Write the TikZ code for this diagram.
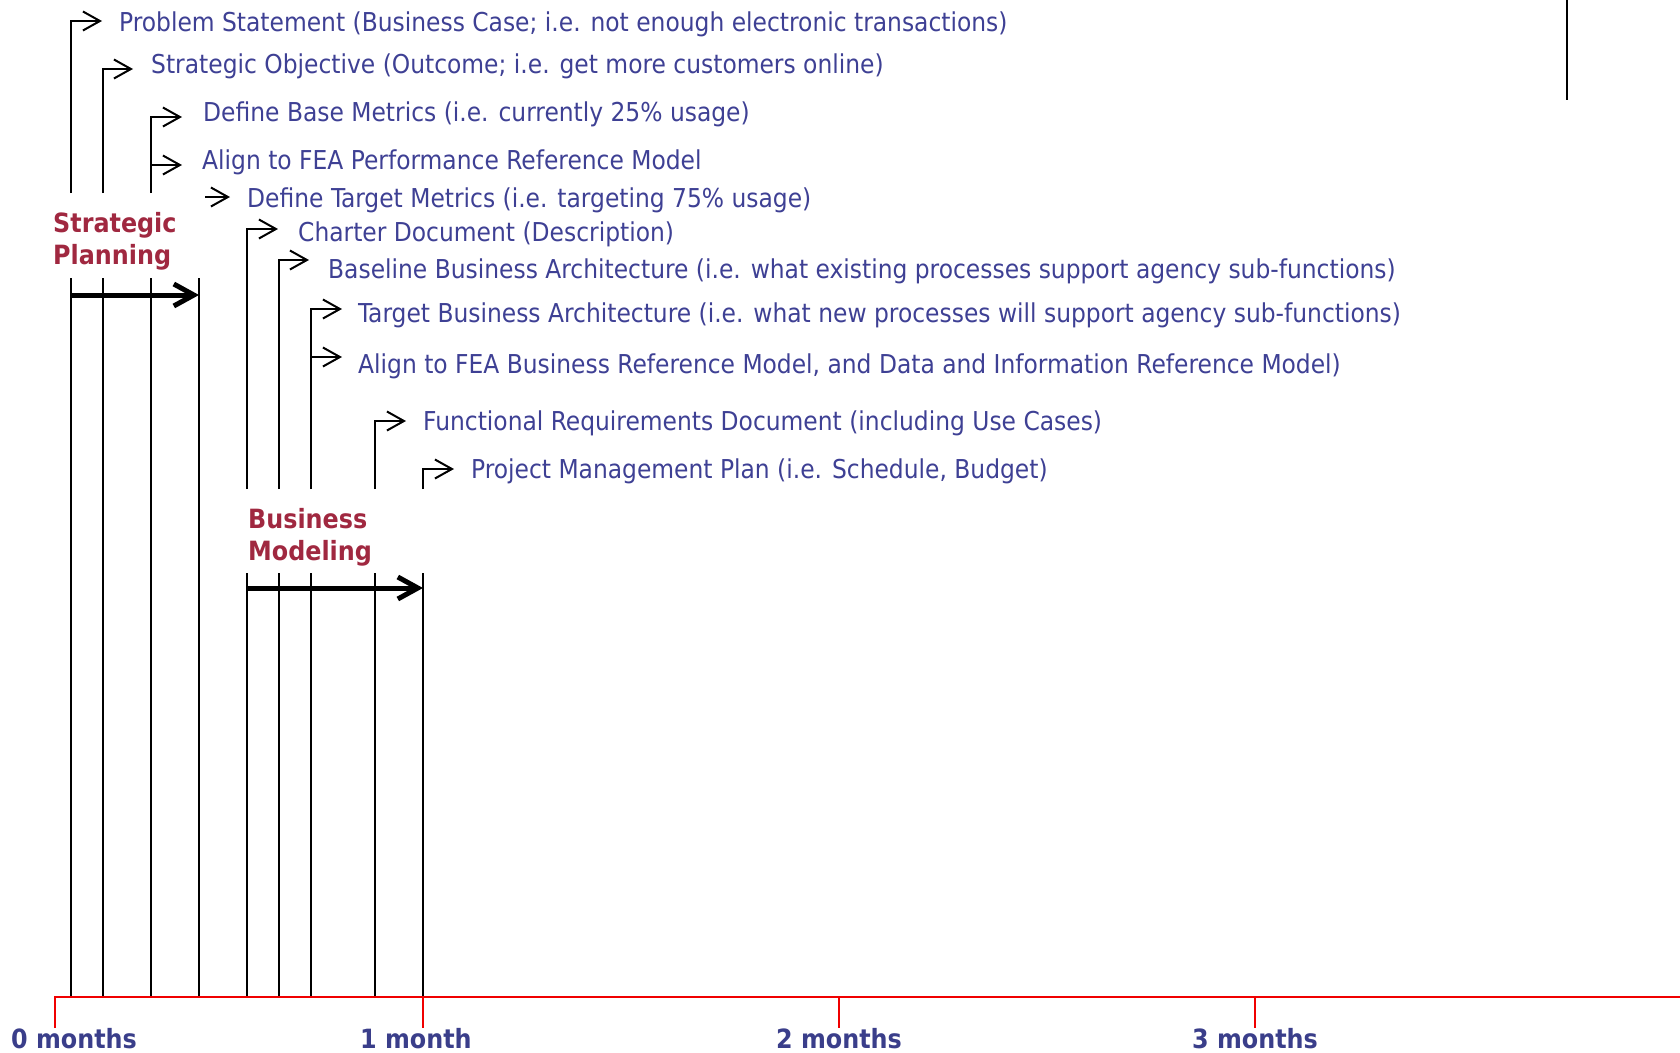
\documentclass[tikz,border=0pt]{standalone}
\usepackage{xcolor}
\usepackage{fontspec}
\usepackage{tikz}
\usetikzlibrary{arrows.meta}
\setmainfont{DejaVu Sans Condensed}

\definecolor{taskblue}{RGB}{62,64,148}
\definecolor{monthblue}{RGB}{58,62,138}
\definecolor{phasered}{RGB}{160,40,64}
\definecolor{axisred}{RGB}{240,0,0}

\newcommand{\tasksize}{\fontsize{26}{32}\selectfont}
\newcommand{\phasesize}{\fontsize{26.5}{32}\selectfont\bfseries}

\tikzset{
	milestone/.style={line width=2pt},
	taskarrow/.style={line width=2pt, -{Straight Barb[length=17pt,width=19pt]}},
	phasearrow/.style={line width=5pt, -{Straight Barb[length=20pt,width=22pt]}},
	axisline/.style={draw=axisred, line width=2.5pt},
	tasktext/.style={anchor=base west, inner sep=0pt, text=taskblue, font=\tasksize},
	phaselabel/.style={anchor=base west, inner sep=0pt, align=left, text=phasered, font=\phasesize},
	monthlabel/.style={anchor=base west, inner sep=0pt, text=monthblue, font=\phasesize},
}

\begin{document}
\begin{tikzpicture}[x=1pt, y=-1pt]
		\useasboundingbox (0,0) rectangle (1680,1052);
		% tasks
		\node[tasktext] (problem) at (119,31) {Problem Statement (Business Case; i.e. not enough electronic transactions)};
		\node[tasktext] (objective) at (151,73) {Strategic Objective (Outcome; i.e. get more customers online)};
		\node[tasktext] (basemetrics) at (203,121) {Define Base Metrics (i.e. currently 25\% usage)};
		\node[tasktext] (alignprm) at (202,169) {Align to FEA Performance Reference Model};
		\node[tasktext] (targetmetrics) at (247,207) {Define Target Metrics (i.e. targeting 75\% usage)};
		\node[tasktext] (charter) at (298,241) {Charter Document (Description)};
		\node[tasktext] (baselinearch) at (328,278) {Baseline Business Architecture (i.e. what existing processes support agency sub-functions)};
		\node[tasktext] (targetarch) at (358,322) {Target Business Architecture (i.e. what new processes will support agency sub-functions)};
		\node[tasktext] (alignbrm) at (358,373) {Align to FEA Business Reference Model, and Data and Information Reference Model)};
		\node[tasktext] (funcreq) at (423,430) {Functional Requirements Document (including Use Cases)};
		\node[tasktext] (pmplan) at (471,478) {Project Management Plan (i.e. Schedule, Budget)};

		% phases (base is the last line)
		\node[phaselabel] (strategic) at (53,264) {Strategic\\Planning};
		\node[phaselabel] (business) at (248,560) {Business\\Modeling};

		% strategic planning milestones
		\draw[taskarrow] (71,193) |- ([xshift=-17pt,yshift=10pt]problem.base west);
		\draw[taskarrow] (103,193) |- ([xshift=-18pt,yshift=4pt]objective.base west);
		\draw[taskarrow] (151,193) |- ([xshift=-21pt,yshift=4pt]basemetrics.base west);
		\draw[taskarrow] (151,165) -- ([xshift=-20pt,yshift=4pt]alignprm.base west);
		\draw[taskarrow] (205,197) -- ([xshift=-17pt,yshift=10pt]targetmetrics.base west);
		\draw[milestone] (71,278) -- (71,997) (103,278) -- (103,997) (151,278) -- (151,997) (199,278) -- (199,997);
		\draw[phasearrow] (71,295) -- (199,295);

		% business modeling milestones
		\draw[taskarrow] (247,489) |- ([xshift=-20pt,yshift=12pt]charter.base west);
		\draw[taskarrow] (279,489) |- ([xshift=-19pt,yshift=18pt]baselinearch.base west);
		\draw[taskarrow] (311,489) |- ([xshift=-16pt,yshift=13pt]targetarch.base west);
		\draw[taskarrow] (311,357) -- ([xshift=-16pt,yshift=16pt]alignbrm.base west);
		\draw[taskarrow] (375,489) |- ([xshift=-17pt,yshift=9pt]funcreq.base west);
		\draw[taskarrow] (423,489) |- ([xshift=-17pt,yshift=9pt]pmplan.base west);
		\draw[milestone] (247,573) -- (247,997) (279,573) -- (279,997) (311,573) -- (311,997) (375,573) -- (375,997) (423,573) -- (423,997);
		\draw[phasearrow] (247,588) -- (423,588);

		% time axis
		\coordinate (m0) at (55,997);
		\coordinate (m1) at (423,997);
		\coordinate (m2) at (839,997);
		\coordinate (m3) at (1255,997);
		\draw[axisline] ([yshift=-31pt]m0) -- (m0) -- (1680,997);
		\draw[axisline] (m1) -- ++(0,31) (m2) -- ++(0,31) (m3) -- ++(0,31);
		\node[monthlabel] (month0) at (11,1048) {0 months};
		\node[monthlabel] (month1) at (360,1048) {1 month};
		\node[monthlabel] (month2) at (776,1048) {2 months};
		\node[monthlabel] (month3) at (1192,1048) {3 months};

		\draw[milestone] (1567,0) -- (1567,100);
	\end{tikzpicture}
\end{document}
